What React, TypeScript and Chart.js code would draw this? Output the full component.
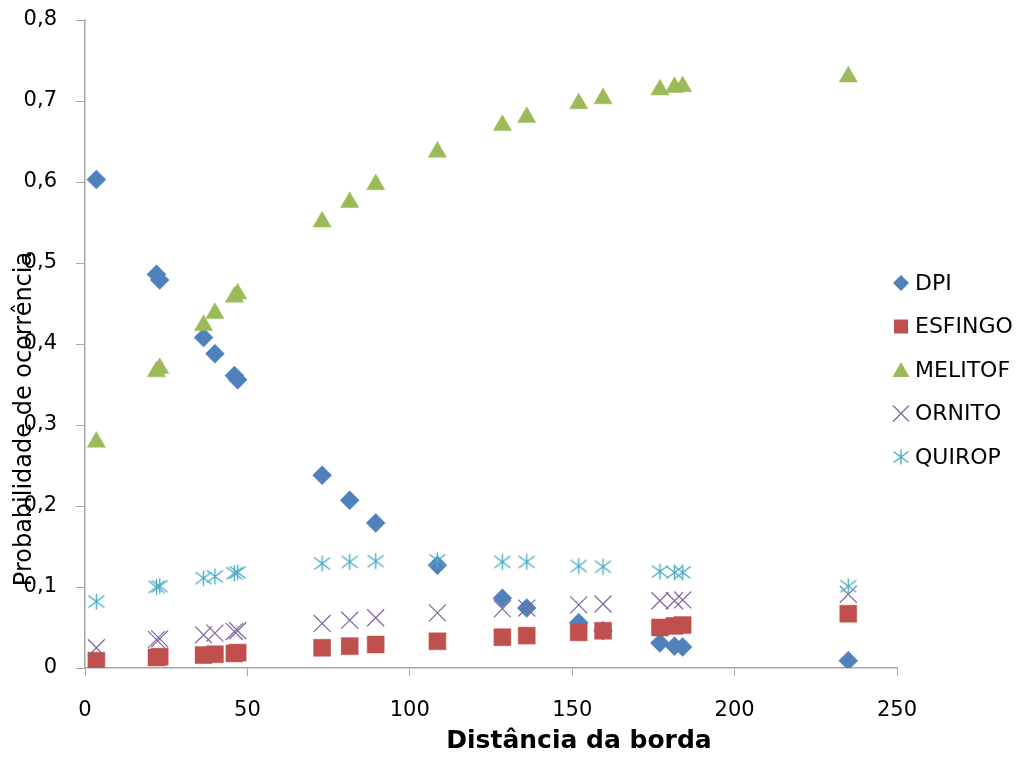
import React, { useEffect, useRef } from "react";
import { Chart, registerables } from "chart.js";

Chart.register(...registerables);

const distances = [3.5, 22, 23, 36.5, 40, 46, 47, 73, 81.5, 89.5, 108.5, 128.5, 136, 152, 159.5, 177, 181.5, 184, 235];
const dpi = [0.603, 0.486, 0.479, 0.408, 0.388, 0.361, 0.356, 0.238, 0.207, 0.179, 0.127, 0.086, 0.074, 0.056, 0.046, 0.031, 0.027, 0.026, 0.009];
const esfingo = [0.009, 0.013, 0.014, 0.016, 0.017, 0.018, 0.019, 0.025, 0.027, 0.029, 0.033, 0.038, 0.04, 0.044, 0.046, 0.05, 0.052, 0.053, 0.067];
const melitof = [0.279, 0.366, 0.37, 0.423, 0.438, 0.458, 0.462, 0.551, 0.575, 0.597, 0.637, 0.67, 0.68, 0.697, 0.703, 0.714, 0.717, 0.718, 0.73];
const ornito = [0.025, 0.035, 0.036, 0.041, 0.043, 0.045, 0.046, 0.055, 0.059, 0.062, 0.068, 0.073, 0.074, 0.078, 0.079, 0.083, 0.083, 0.084, 0.091];
const quirop = [0.082, 0.1, 0.101, 0.111, 0.113, 0.117, 0.118, 0.129, 0.131, 0.132, 0.133, 0.131, 0.131, 0.126, 0.125, 0.119, 0.118, 0.118, 0.101];

const seriesNames = ["DPI", "ESFINGO", "MELITOF", "ORNITO", "QUIROP"];
const seriesColors = ["#4F81BD", "#C0504D", "#9BBB59", "#8064A2", "#4BACC6"];
const xTitle = "Distância da borda";
const yTitle = "Probabilidade de ocorrência";

const FONT = "'DejaVu Sans', sans-serif";

function makeAsterisk(color: string, size: number): HTMLCanvasElement {
  const c = document.createElement("canvas");
  c.width = size;
  c.height = size;
  const g = c.getContext("2d")!;
  g.strokeStyle = color;
  g.lineWidth = 1.4;
  const m = 1.5;
  g.beginPath();
  g.moveTo(size / 2, m);
  g.lineTo(size / 2, size - m);
  g.moveTo(m, m + 2);
  g.lineTo(size - m, size - m - 2);
  g.moveTo(size - m, m + 2);
  g.lineTo(m, size - m - 2);
  g.stroke();
  return c;
}

function toPoints(ys: number[]) {
  return distances.map((x, i) => ({ x, y: ys[i] }));
}

function drawLegendMarker(ctx: CanvasRenderingContext2D, i: number, x: number, y: number, star: HTMLCanvasElement) {
  const col = seriesColors[i];
  ctx.save();
  ctx.fillStyle = col;
  ctx.strokeStyle = col;
  ctx.beginPath();
  if (i === 0) {
    ctx.moveTo(x, y - 8);
    ctx.lineTo(x + 8, y);
    ctx.lineTo(x, y + 8);
    ctx.lineTo(x - 8, y);
    ctx.closePath();
    ctx.fill();
  } else if (i === 1) {
    ctx.rect(x - 7, y - 7, 14, 14);
    ctx.fill();
  } else if (i === 2) {
    ctx.moveTo(x, y - 8);
    ctx.lineTo(x + 8.5, y + 7);
    ctx.lineTo(x - 8.5, y + 7);
    ctx.closePath();
    ctx.fill();
  } else if (i === 3) {
    ctx.lineWidth = 1.2;
    ctx.moveTo(x - 8, y - 8);
    ctx.lineTo(x + 8, y + 8);
    ctx.moveTo(x + 8, y - 8);
    ctx.lineTo(x - 8, y + 8);
    ctx.stroke();
  } else {
    ctx.drawImage(star, x - star.width / 2, y - star.height / 2);
  }
  ctx.restore();
}

export default function App() {
  const ref = useRef<HTMLCanvasElement | null>(null);

  useEffect(() => {
    if (!ref.current) return;
    const star = makeAsterisk(seriesColors[4], 19);
    const legendStar = makeAsterisk(seriesColors[4], 18);

    const overlay = {
      id: "overlay",
      afterDraw(chart: any) {
        const ctx = chart.ctx as CanvasRenderingContext2D;
        const area = chart.chartArea;
        ctx.save();
        ctx.font = `22px ${FONT}`;
        ctx.fillStyle = "#000";
        ctx.textBaseline = "middle";
        ctx.textAlign = "left";
        const lx = area.right + 4;
        const ly0 = 283;
        seriesNames.forEach((n, i) => {
          const y = ly0 + i * 43.5;
          drawLegendMarker(ctx, i, lx, y, legendStar);
          ctx.fillText(n, lx + 14, y + 1);
        });
        ctx.font = `bold 25px ${FONT}`;
        ctx.textAlign = "center";
        ctx.fillText(xTitle, 579, 741);
        ctx.translate(25, 419);
        ctx.rotate(-Math.PI / 2);
        ctx.font = `24px ${FONT}`;
        ctx.fillText(yTitle, 0, 0);
        ctx.restore();
      },
    };

    const chart = new Chart(ref.current, {
      type: "scatter",
      data: {
        datasets: [
          {
            label: seriesNames[0],
            data: toPoints(dpi),
            pointStyle: "rectRot",
            pointRadius: 9.5,
            backgroundColor: seriesColors[0],
            borderColor: seriesColors[0],
            borderWidth: 0.5,
            order: 5,
          },
          {
            label: seriesNames[1],
            data: toPoints(esfingo),
            pointStyle: "rect",
            pointRadius: 12,
            backgroundColor: seriesColors[1],
            borderColor: seriesColors[1],
            borderWidth: 0.5,
            order: 4,
          },
          {
            label: seriesNames[2],
            data: toPoints(melitof),
            pointStyle: "triangle",
            pointRadius: 10.5,
            backgroundColor: seriesColors[2],
            borderColor: seriesColors[2],
            borderWidth: 0.5,
            order: 3,
          },
          {
            label: seriesNames[3],
            data: toPoints(ornito),
            pointStyle: "crossRot",
            pointRadius: 12,
            backgroundColor: seriesColors[3],
            borderColor: seriesColors[3],
            borderWidth: 1.2,
            order: 2,
          },
          {
            label: seriesNames[4],
            data: toPoints(quirop),
            pointStyle: star as any,
            pointRadius: 9,
            backgroundColor: seriesColors[4],
            borderColor: seriesColors[4],
            order: 1,
          },
        ],
      },
      options: {
        responsive: false,
        animation: false,
        layout: { padding: { top: 20, right: 127, left: 0, bottom: 0 } },
        plugins: {
          legend: { display: false },
          tooltip: { enabled: false },
          title: { display: false },
        },
        scales: {
          x: {
            type: "linear",
            min: 0,
            max: 250,
            ticks: {
              stepSize: 50,
              color: "#000",
              font: { family: FONT, size: 21 },
              padding: 22,
            },
            grid: {
              display: true,
              drawOnChartArea: false,
              drawTicks: true,
              tickLength: 8,
              color: "#a6a6a6",
            },
            border: { display: true, color: "#a6a6a6", width: 1.5 },
            afterFit: (s: any) => {
              s.height = 90;
              s.paddingLeft = 0;
              s.paddingRight = 0;
            },
          },
          y: {
            type: "linear",
            min: 0,
            max: 0.8,
            ticks: {
              stepSize: 0.1,
              color: "#000",
              font: { family: FONT, size: 21 },
              padding: 19,
              callback: (v: any) => (Number(v) === 0 ? "0" : Number(v).toFixed(1).replace(".", ",")),
            },
            grid: {
              display: true,
              drawOnChartArea: false,
              drawTicks: true,
              tickLength: 9,
              color: "#a6a6a6",
            },
            border: { display: true, color: "#a6a6a6", width: 1.5 },
            afterFit: (s: any) => {
              s.width = 85;
              s.paddingTop = 0;
              s.paddingBottom = 0;
            },
          },
        },
      },
      plugins: [overlay],
    });
    return () => chart.destroy();
  }, []);

  return (
    <div style={{ position: "fixed", left: 0, top: 0, width: 1024, height: 758, background: "#fff" }}>
      <canvas ref={ref} width={1024} height={758} style={{ width: 1024, height: 758, display: "block" }} />
    </div>
  );
}
